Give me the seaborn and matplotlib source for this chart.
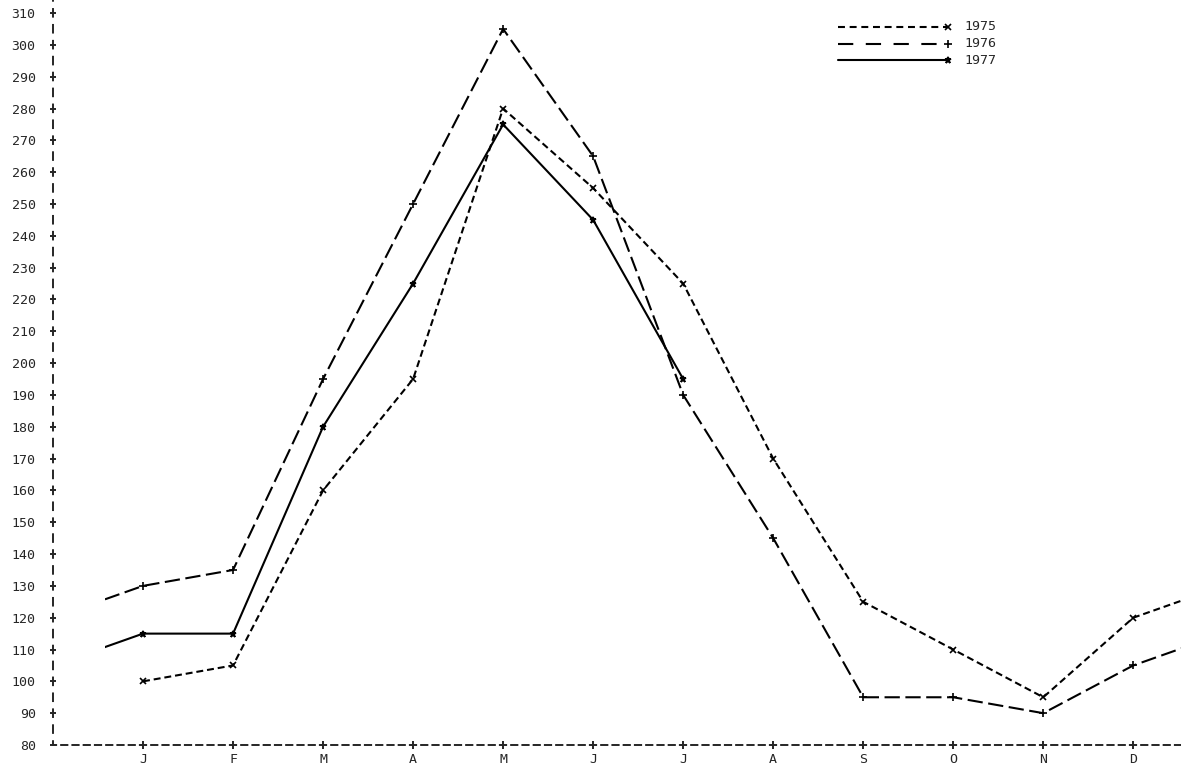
import numpy as np
import pandas as pd
import seaborn as sns
import matplotlib.pyplot as plt
from matplotlib.patches import Rectangle

# monthly values
months = ["J", "F", "M", "A", "M", "J", "J", "A", "S", "O", "N", "D"]
y1975 = [100, 105, 160, 195, 280, 255, 225, 170, 125, 110, 95, 120]
y1976 = [130, 135, 195, 250, 305, 265, 190, 145, 95, 95, 90, 105]
y1977 = [115, 115, 180, 225, 275, 245, 195]
years = ["1975", "1976", "1977"]
yticks = list(range(80, 311, 10))

data = [y1975, y1976, y1977]
line_styles = {
    "1975": dict(ls=(0, (5, 2.8)), leg_ls=(0, (5, 3.4)), marker="x", ms=5),
    "1976": dict(ls=(5.3, (11, 4)), leg_ls=(0, (11, 9)), marker="+", ms=5.5),
    "1977": dict(ls="-", leg_ls="-", marker="*", ms=5),
}


def build_series(i):
    """Month positions 1..12, with the previous December (0) and next January (13) joined on."""
    vals = data[i]
    x = list(range(1, len(vals) + 1))
    y = list(vals)
    if i > 0:
        x = [0] + x
        y = [data[i - 1][11]] + y
    if i + 1 < len(data) and len(vals) == 12:
        x.append(13)
        y.append(data[i + 1][0])
    return pd.DataFrame({"month": x, "value": y})


sns.set_style("white")
plt.rcParams["font.family"] = ["DejaVu Sans Mono", "DejaVu Sans"]
plt.rcParams["lines.scale_dashes"] = False

fig = plt.figure(figsize=(11.81, 7.71), dpi=100)
ax = fig.add_axes([53 / 1181, 26 / 771, 1 - 53 / 1181, 745 / 771])

for i, yr in enumerate(years):
    st = line_styles[yr]
    df = build_series(i)
    real = [k for k, m in enumerate(df["month"]) if 1 <= m <= 12]
    sns.lineplot(data=df, x="month", y="value", ax=ax, color="black", lw=1.5,
                 linestyle=st["ls"], marker=st["marker"], markersize=st["ms"],
                 markeredgewidth=1.2, markeredgecolor="black", markevery=real,
                 sort=False, estimator=None)
    # the plotter pen starts a little after the left axis
    ax.lines[-1].set_clip_path(Rectangle((0.58, 0), 20, 1000, transform=ax.transData))

# legend drawn the way the plotter did: line then marker then label
leg_y = [0.964, 0.941, 0.919]
for k, yr in enumerate(years):
    st = line_styles[yr]
    ax.plot([0.696, 0.793], [leg_y[k], leg_y[k]], transform=ax.transAxes,
            color="black", lw=1.5, linestyle=st["leg_ls"])
    ax.plot([0.793], [leg_y[k]], transform=ax.transAxes, color="black",
            marker=st["marker"], markersize=st["ms"], markeredgewidth=1.2)
    ax.text(0.808, leg_y[k], yr, transform=ax.transAxes, fontsize=9.5,
            va="center", ha="left")

ax.set_xlim(0, 12.53)
ax.set_ylim(80, 314.1)
ax.set_xticks(range(1, 13))
ax.set_xticklabels(months)
ax.set_yticks(yticks)
ax.set_yticklabels([str(v) for v in yticks])
ax.set_xlabel("")
ax.set_ylabel("")

for side in ["top", "right"]:
    ax.spines[side].set_visible(False)
ax.spines["left"].set_linewidth(1.4)
ax.spines["bottom"].set_linewidth(1.4)
ax.spines["left"].set_linestyle((2.75, (5.5, 5.96)))
ax.spines["bottom"].set_linestyle((2.25, (4.5, 3.6)))

ax.tick_params(axis="y", direction="inout", length=5, width=1.4, pad=10,
               labelsize=9.5, left=True)
ax.tick_params(axis="x", direction="inout", length=6, width=1.4, pad=3,
               labelsize=9.5, bottom=True)

fig.savefig("out.png", dpi=100)
